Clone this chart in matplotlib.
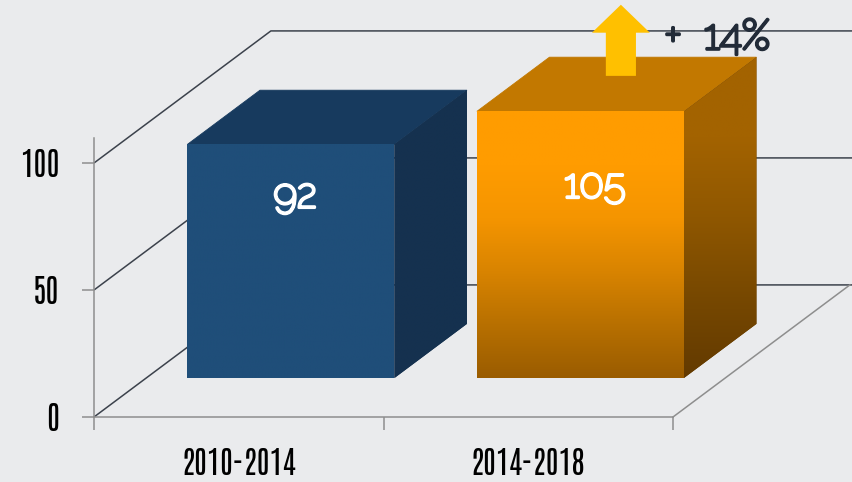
#!/usr/bin/env python3
import matplotlib
matplotlib.use("Agg")
import matplotlib.patheffects as pe
import matplotlib.pyplot as plt
from matplotlib.colors import LinearSegmentedColormap
from matplotlib.patches import Polygon
import numpy as np

categories = ["2010-2014", "2014-2018"]
values = [92, 105]
y_ticks = [0, 50, 100]
change_label = "+  14%"

BG = "#eaebed"
GRID = "#3c424c"
AXIS = "#8e8e8e"
INK = "#000000"

# pseudo 3D: how far the back wall sits from the front, in data units
DX = 0.611
DY = 52
BAR_WIDTH = 0.715
BAR_BASE = 0.295  # fraction of the floor depth
BAR_DEPTH = 0.41

W, H = 852, 482
X_PX = 289.5  # pixels per category
Y_PX = 2.54   # pixels per value unit
X0, Y0 = 94, 417

TICK_FONT = ["Antonio", "Roboto", "DejaVu Sans"]
VALUE_FONT = ["Raleway", "Lato", "DejaVu Sans"]


def proj(x, v, d=0.0):
    return x + d * DX, v + d * DY


def gradient(ax, pts, stops, zorder):
    # vertical gradient clipped to a polygon, solid copy below hides the seams
    xs = [p[0] for p in pts]
    ys = [p[1] for p in pts]
    ax.add_patch(Polygon(pts, closed=True, facecolor=stops[-1], edgecolor="none", zorder=zorder))
    cmap = LinearSegmentedColormap.from_list("g", stops)
    im = ax.imshow(np.linspace(0, 1, 256).reshape(-1, 1), cmap=cmap, aspect="auto",
                   origin="upper", extent=(min(xs), max(xs), min(ys), max(ys)),
                   zorder=zorder, interpolation="bilinear")
    im.set_clip_path(Polygon(pts, closed=True, transform=ax.transData))


def draw_bar(ax, i, value, front, top, side):
    cx = i + 0.5
    left = cx - BAR_WIDTH / 2
    right = cx + BAR_WIDTH / 2
    d0, d1 = BAR_BASE, BAR_BASE + BAR_DEPTH
    front_pts = [proj(left, 0, d0), proj(right, 0, d0), proj(right, value, d0), proj(left, value, d0)]
    side_pts = [proj(right, 0, d0), proj(right, 0, d1), proj(right, value, d1), proj(right, value, d0)]
    top_pts = [proj(left, value, d0), proj(right, value, d0), proj(right, value, d1), proj(left, value, d1)]
    ax.add_patch(Polygon(top_pts, closed=True, facecolor=top, edgecolor=top, lw=0.6, zorder=3))
    gradient(ax, side_pts, side, 3.1)
    gradient(ax, front_pts, front, 3.2)


fig = plt.figure(figsize=(W / 100, H / 100), dpi=100, facecolor=BG)
ax = fig.add_axes([0, 0, 1, 1], facecolor=BG)
xlim = (-X0 / X_PX, (W - X0) / X_PX)
ylim = ((Y0 - H) / Y_PX, Y0 / Y_PX)

# walls and floor
for v in y_ticks:
    bx, by = proj(0, v, 1)
    ax.plot([0, bx, xlim[1]], [v, by, by], color=GRID, lw=1.1, zorder=1, solid_capstyle="butt")
ax.plot([2, proj(2, 0, 1)[0]], [0, DY], color=AXIS, lw=1.1, zorder=1)

draw_bar(ax, 0, values[0], ["#1f4e79", "#1f4e79"], "#173a5e", ["#15314f", "#15314f"])
draw_bar(ax, 1, values[1],
         ["#ff9c00", "#ff9c00", "#f59500", "#d98400", "#b87000", "#9a5c00"],
         "#c27800",
         ["#a36300", "#a36300", "#8f5700", "#774800", "#633a00"])

ax.set_xlim(xlim)
ax.set_ylim(ylim)

# axes
for s in ("top", "right"):
    ax.spines[s].set_visible(False)
ax.spines["left"].set_position(("data", 0))
ax.spines["bottom"].set_position(("data", 0))
ax.spines["left"].set_bounds(0, 110)
ax.spines["bottom"].set_bounds(0, 2)
for s in ("left", "bottom"):
    ax.spines[s].set_color(AXIS)
    ax.spines[s].set_linewidth(1.1)
    ax.spines[s].set_zorder(2)

ax.set_yticks(y_ticks)
ax.set_yticklabels([str(v) for v in y_ticks], family=TICK_FONT, fontsize=23, color=INK)
ax.set_xticks([0, 1, 2])
ax.set_xticklabels([])
ax.set_xticks([0.5, 1.5], minor=True)
ax.set_xticklabels(categories, minor=True, family=TICK_FONT, fontsize=22.5, color=INK)
ax.tick_params(axis="both", which="major", length=9, width=1.1, color=AXIS)
ax.tick_params(axis="y", pad=16)
ax.tick_params(axis="x", which="minor", length=0, pad=22)

# value labels on the front faces
label_y = [86.6, 90.5]
label_x = [0.695, 1.73]
for x, y, v in zip(label_x, label_y, values):
    ax.text(x, y, str(v), color="white", fontsize=29, family=VALUE_FONT,
            ha="center", va="center", zorder=5,
            path_effects=[pe.withStroke(linewidth=2.2, foreground="white")])

# increase arrow and its label
ax.arrow(1.82, 134.3, 0, 28, width=0.104, head_width=0.2, head_length=11, length_includes_head=True,
         facecolor="#ffc000", edgecolor="none", zorder=6)
ax.text(1.97, 149, change_label, color="#222b38", fontsize=30.5, family=VALUE_FONT,
        ha="left", va="center", zorder=6,
        path_effects=[pe.withStroke(linewidth=2.2, foreground="#222b38")])

fig.savefig("out.png", dpi=100, facecolor=BG)
